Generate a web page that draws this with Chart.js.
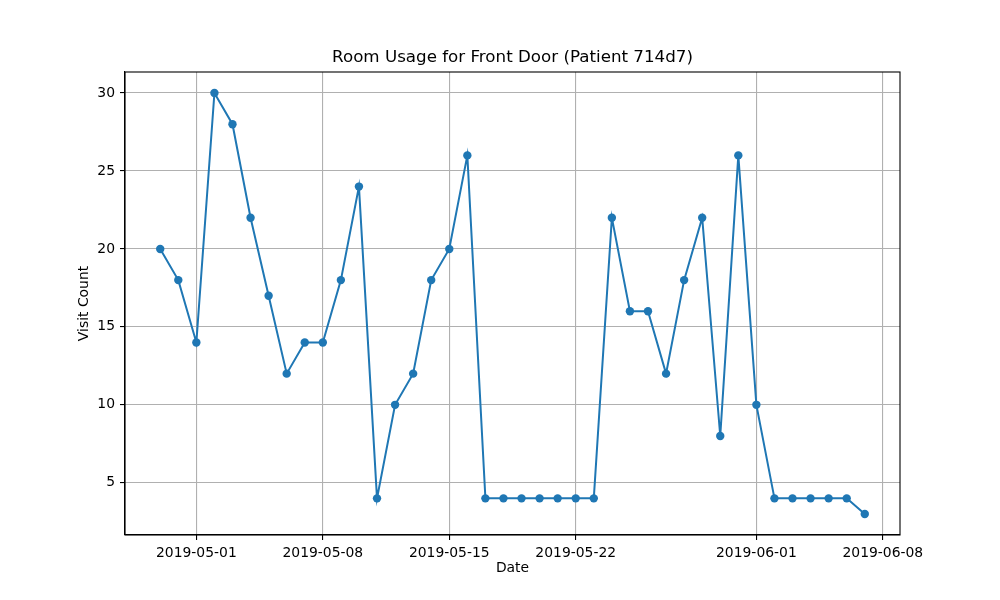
<!DOCTYPE html>
<html>
<head>
<meta charset="utf-8">
<script src="https://cdn.jsdelivr.net/npm/chart.js@4.4.1/dist/chart.umd.min.js"></script>
<style>
  html, body { margin: 0; padding: 0; background: #ffffff; }
  #wrap { width: 1000px; height: 600px; }
</style>
</head>
<body>
<div id="wrap"><canvas id="usageChart" width="1000" height="600"></canvas></div>
<script>
// data
const dates = [
  "2019-04-29", "2019-04-30", "2019-05-01", "2019-05-02", "2019-05-03",
  "2019-05-04", "2019-05-05", "2019-05-06", "2019-05-07", "2019-05-08",
  "2019-05-09", "2019-05-10", "2019-05-11", "2019-05-12", "2019-05-13",
  "2019-05-14", "2019-05-15", "2019-05-16", "2019-05-17", "2019-05-18",
  "2019-05-19", "2019-05-20", "2019-05-21", "2019-05-22", "2019-05-23",
  "2019-05-24", "2019-05-25", "2019-05-26", "2019-05-27", "2019-05-28",
  "2019-05-29", "2019-05-30", "2019-05-31", "2019-06-01", "2019-06-02",
  "2019-06-03", "2019-06-04", "2019-06-05", "2019-06-06", "2019-06-07"
];
const visits = [
  20, 18, 14, 30, 28,
  22, 17, 12, 14, 14,
  18, 24, 4, 10, 12,
  18, 20, 26, 4, 4,
  4, 4, 4, 4, 4,
  22, 16, 16, 12, 18,
  22, 8, 26, 10, 4,
  4, 4, 4, 4, 3
];
const xTickDates = ["2019-05-01", "2019-05-08", "2019-05-15", "2019-05-22", "2019-06-01", "2019-06-08"];
const yTicks = [5, 10, 15, 20, 25, 30];
const chartTitle = "Room Usage for Front Door (Patient 714d7)";

const DAY = 86400000;
const toDay = s => Date.parse(s + "T00:00:00Z") / DAY;
const fmtDay = d => new Date(Math.round(d) * DAY).toISOString().slice(0, 10);

const xs = dates.map(toDay);
const xLo = Math.min(...xs), xHi = Math.max(...xs);
const yLo = Math.min(...visits), yHi = Math.max(...visits);
const xPad = (xHi - xLo) * 0.05, yPad = (yHi - yLo) * 0.05;

const points = xs.map((x, i) => ({ x: x, y: visits[i] }));

const tickFont = { family: "'DejaVu Sans', sans-serif", size: 13.9 };

// black frame round the plot area and title centred over it, like matplotlib
const framePlugin = {
  id: "frame",
  afterDraw(chart) {
    const { ctx, chartArea: a } = chart;
    ctx.save();
    ctx.strokeStyle = "#000000";
    ctx.lineWidth = 1.1;
    ctx.strokeRect(a.left, a.top, a.right - a.left, a.bottom - a.top);
    ctx.fillStyle = "#000000";
    ctx.font = "16.7px 'DejaVu Sans', sans-serif";
    ctx.textAlign = "center";
    ctx.textBaseline = "middle";
    ctx.fillText(chartTitle, (a.left + a.right) / 2, 58);
    ctx.restore();
  }
};

new Chart(document.getElementById("usageChart"), {
  type: "line",
  data: {
    datasets: [{
      data: points,
      borderColor: "#1f77b4",
      backgroundColor: "#1f77b4",
      borderWidth: 2,
      tension: 0,
      pointRadius: 4.2,
      pointBorderWidth: 0,
      pointBackgroundColor: "#1f77b4",
      fill: false
    }]
  },
  options: {
    responsive: false,
    animation: false,
    devicePixelRatio: 1,
    layout: { padding: { top: 72, left: 0, right: 100, bottom: 0 } },
    plugins: {
      legend: { display: false },
      tooltip: { enabled: false },
      title: { display: false }
    },
    scales: {
      x: {
        type: "linear",
        min: xLo - xPad,
        max: xHi + xPad,
        afterBuildTicks: scale => { scale.ticks = xTickDates.map(s => ({ value: toDay(s) })); },
        afterFit: scale => { scale.height = 65; },
        grid: { color: "#b0b0b0", lineWidth: 1.1, drawTicks: true, tickLength: 5, tickColor: "#000000", tickWidth: 1.1 },
        border: { display: true, color: "#000000", width: 1.1 },
        ticks: {
          color: "#000000",
          font: tickFont,
          padding: 5,
          autoSkip: false,
          maxRotation: 0,
          callback: v => fmtDay(v)
        },
        title: {
          display: true,
          text: "Date",
          color: "#000000",
          font: tickFont,
          padding: { top: 0, bottom: 23 }
        }
      },
      y: {
        type: "linear",
        min: yLo - yPad,
        max: yHi + yPad,
        afterBuildTicks: scale => { scale.ticks = yTicks.map(v => ({ value: v })); },
        afterFit: scale => { scale.width = 125; },
        grid: { color: "#b0b0b0", lineWidth: 1.1, drawTicks: true, tickLength: 5, tickColor: "#000000", tickWidth: 1.1 },
        border: { display: true, color: "#000000", width: 1.1 },
        ticks: {
          color: "#000000",
          font: tickFont,
          padding: 5,
          callback: v => String(v)
        },
        title: {
          display: true,
          text: "Visit Count",
          color: "#000000",
          font: tickFont,
          padding: { top: 76, bottom: 0 }
        }
      }
    }
  },
  plugins: [framePlugin]
});
</script>
</body>
</html>
